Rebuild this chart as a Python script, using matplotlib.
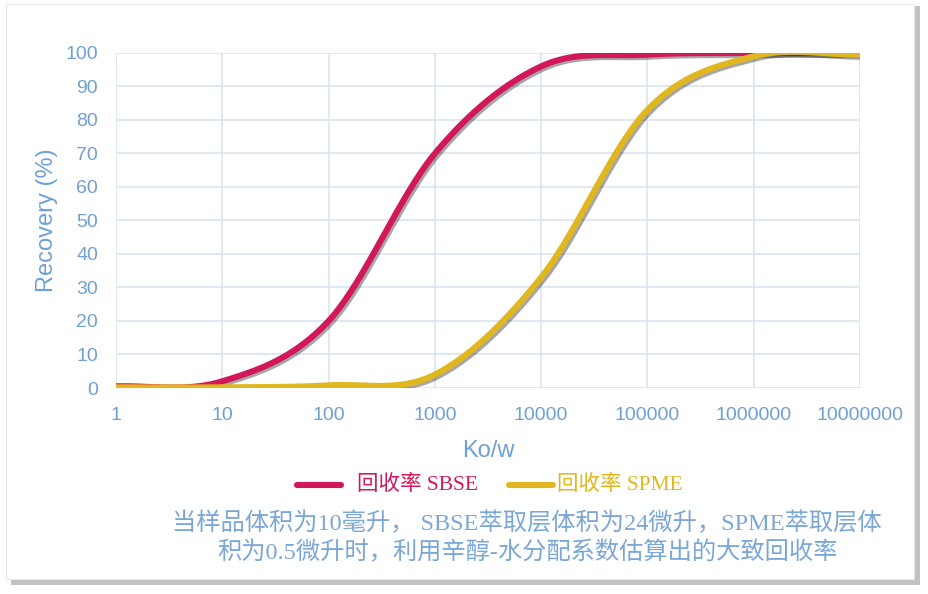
import numpy as np
import matplotlib.pyplot as plt
import matplotlib.patheffects as pe
from matplotlib.patches import Rectangle
from matplotlib.lines import Line2D

kow = [1, 10, 100, 1000, 10000, 100000, 1000000, 10000000]
sbse = [0.5, 2, 20, 70, 96, 99.5, 100, 100]
spme = [0.2, 0.2, 0.8, 4, 33, 83, 99, 99.5]
xticks = ["1", "10", "100", "1000", "10000", "100000", "1000000", "10000000"]

RED = "#D2185A"
YEL = "#E0B71E"
TXT = "#6FA0D4"
GRID = "#DCE6F2"


def smooth(x, y, n=40):
    """Catmull-Rom style smoothing in log-x space, like Excel's smoothed line"""
    lx = np.log10(x)
    y = np.asarray(y, float)
    px = np.concatenate([[2 * lx[0] - lx[1]], lx, [2 * lx[-1] - lx[-2]]])
    py = np.concatenate([[y[0]], y, [y[-1]]])
    ox, oy = [], []
    t = np.linspace(0, 1, n)
    for i in range(1, len(px) - 2):
        for arr, out in ((px, ox), (py, oy)):
            p0, p1, p2, p3 = arr[i - 1:i + 3]
            out.extend(0.5 * ((2 * p1) + (-p0 + p2) * t
                              + (2 * p0 - 5 * p1 + 4 * p2 - p3) * t ** 2
                              + (-p0 + 3 * p1 - 3 * p2 + p3) * t ** 3))
    return 10 ** np.array(ox), np.array(oy)


fig = plt.figure(figsize=(9.29, 5.94), dpi=100)

# card with shadow
fig.patches.append(Rectangle((0.012, 0.015), 0.978, 0.975, transform=fig.transFigure,
                             facecolor="#9a9a9a", edgecolor="none", alpha=0.6, zorder=-3))
fig.patches.append(Rectangle((0.006, 0.025), 0.978, 0.968, transform=fig.transFigure,
                             facecolor="white", edgecolor="#e8e8e8", lw=0.8, zorder=-2))

ax = fig.add_axes([0.1249, 0.3468, 0.8008, 0.564])
ax.set_facecolor("none")

shadow = [pe.SimpleLineShadow(offset=(1.5, -1.5), shadow_color="k", alpha=0.35), pe.Normal()]
sx, sy = smooth(kow, sbse)
ax.plot(sx, sy, color=RED, lw=4.4, solid_capstyle="round", path_effects=shadow, zorder=3)
px, py = smooth(kow, spme)
ax.plot(px, py, color=YEL, lw=4.4, solid_capstyle="round", path_effects=shadow, zorder=4)

ax.set_xscale("log")
ax.set_xlim(1, 1e7)
ax.set_ylim(0, 100)
ax.set_xticks(kow)
ax.set_xticklabels(xticks)
ax.minorticks_off()
ax.set_yticks(range(0, 101, 10))
ax.grid(True, color=GRID, lw=1.3)
ax.set_axisbelow(True)
for s in ax.spines.values():
    s.set_visible(False)
ax.tick_params(length=0, labelsize=14, labelcolor=TXT)
ax.tick_params(axis="y", pad=13)
ax.tick_params(axis="x", pad=14)
for lab in ax.get_xticklabels() + ax.get_yticklabels():
    lab.set_family("Liberation Sans")

ax.set_xlabel("Ko/w", color=TXT, fontsize=17, family="Liberation Sans", labelpad=11)
ax.set_ylabel("Recovery (%)", color=TXT, fontsize=17, family="Liberation Sans", labelpad=5)

# legend
serif_cjk = ["Liberation Serif", "Noto Sans CJK SC"]
ly = 1 - 485 / 594
fig.add_artist(Line2D([297 / 929, 341 / 929], [ly] * 2, color=RED, lw=4.4,
                      solid_capstyle="round", transform=fig.transFigure))
fig.text(357 / 929, ly, "回收率 SBSE", color=RED, fontsize=15.5,
         family=serif_cjk, va="center")
fig.add_artist(Line2D([509 / 929, 553 / 929], [ly] * 2, color=YEL, lw=4.4,
                      solid_capstyle="round", transform=fig.transFigure))
fig.text(557 / 929, ly, "回收率 SPME", color=YEL, fontsize=15.5,
         family=serif_cjk, va="center")

caption = ("当样品体积为10毫升， SBSE萃取层体积为24微升，SPME萃取层体\n"
           "积为0.5微升时，利用辛醇-水分配系数估算出的大致回收率")
fig.text(527 / 929, 1 - 538 / 594, caption, color="#7BA7D7", fontsize=17.5,
         family=serif_cjk, ha="center", va="center", linespacing=1.3)

plt.savefig("out.png", dpi=100)
